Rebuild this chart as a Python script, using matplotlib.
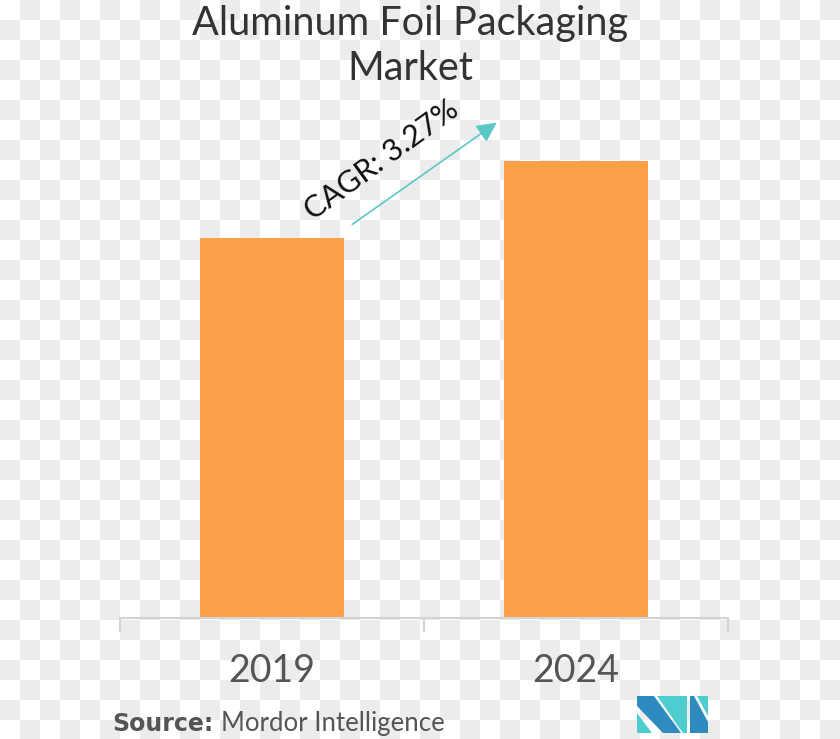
import numpy as np
import matplotlib
matplotlib.use("Agg")
import matplotlib.pyplot as plt
from matplotlib.patches import Polygon, FancyArrowPatch
from matplotlib.colors import ListedColormap

# Data
years = ["2019", "2024"]
market_values = [38.0, 45.7]
cagr_label = "CAGR: 3.27%"
title = "Aluminum Foil Packaging\nMarket"

W, H = 840, 739
fig = plt.figure(figsize=(W / 100, H / 100), dpi=100)

# checkerboard background (transparency pattern)
bg = fig.add_axes([0, 0, 1, 1])
bg.axis("off")
ny, nx = 37, 42
yy, xx = np.indices((ny, nx))
board = ((xx + yy) % 2).astype(float)
bg.imshow(board, cmap=ListedColormap(["#ffffff", "#ececec"]), extent=(0, nx * 20, ny * 20, 0),
          interpolation="nearest", aspect="auto", zorder=0)
bg.set_xlim(0, W)
bg.set_ylim(H, 0)

def fx(px):
    return px / W

def fy(py):
    return 1 - py / H

ax_left, ax_right, ax_bottom, ax_top = 120, 728, 618, 100
ax = fig.add_axes([fx(ax_left), fy(ax_bottom), fx(ax_right - ax_left), (ax_bottom - ax_top) / H])
ax.patch.set_alpha(0)
x = np.arange(len(years))
ax.bar(x, market_values, width=0.476, color="#fda048", zorder=2)
ax.set_xlim(-0.5, 1.5)
ax.set_ylim(0, 51.8)
for s in ["top", "left", "right"]:
    ax.spines[s].set_visible(False)
ax.spines["bottom"].set_color("#d3d3d3")
ax.spines["bottom"].set_linewidth(1.5)
ax.set_yticks([])
ax.set_xticks(x)
ax.set_xticklabels(years, family=["Lato", "DejaVu Sans"], fontsize=27, color="#555555")
ax.tick_params(axis="x", which="major", length=0, pad=25)
ax.set_xticks([-0.5, 0.5, 1.5], minor=True)
ax.tick_params(axis="x", which="minor", length=10, width=1.5, color="#d3d3d3")

# Title
fig.text(fx(410), fy(46), title, ha="center", va="center", fontsize=28.5, color="#333333",
         family=["Lato", "DejaVu Sans"], linespacing=1.3)

# CAGR arrow and label
fig.add_artist(FancyArrowPatch(
    (fx(350), fy(226)), (fx(499), fy(121)), transform=fig.transFigure,
    arrowstyle="-|>,head_length=8,head_width=4", color="#5bc8c8", lw=1.2, mutation_scale=1.5))
fig.text(fx(382), fy(160), cagr_label, ha="center", va="center", rotation=36, fontsize=22,
         color="#111111", family=["Lato", "DejaVu Sans"])

# Source
t1 = fig.text(fx(112), fy(724), "Source:", ha="left", va="center", fontsize=17, fontweight="bold",
              color="#555555", family=["DejaVu Sans"])
fig.canvas.draw()
bb = t1.get_window_extent(renderer=fig.canvas.get_renderer())
fig.text(bb.x1 / W + fx(8), fy(723), "Mordor Intelligence", ha="left", va="center", fontsize=18.5,
         color="#555555", family=["Lato", "DejaVu Sans"])

# Logo
dark, teal = "#2e8bc0", "#4ecdd0"
logo = [
    ([(637, 713), (637, 733), (652, 733)], teal),
    ([(637, 696), (654, 696), (681, 733), (663, 733), (637, 706)], dark),
    ([(657, 696), (687, 696), (687, 733), (683, 733)], teal),
    ([(690, 696), (694, 696), (708, 722), (708, 733), (690, 733)], dark),
    ([(697, 696), (708, 696), (708, 716)], teal),
]
for pts, c in logo:
    fig.add_artist(Polygon([(fx(a), fy(b)) for a, b in pts], closed=True, transform=fig.transFigure,
                           facecolor=c, edgecolor="none"))

fig.savefig("out.png", dpi=100)
